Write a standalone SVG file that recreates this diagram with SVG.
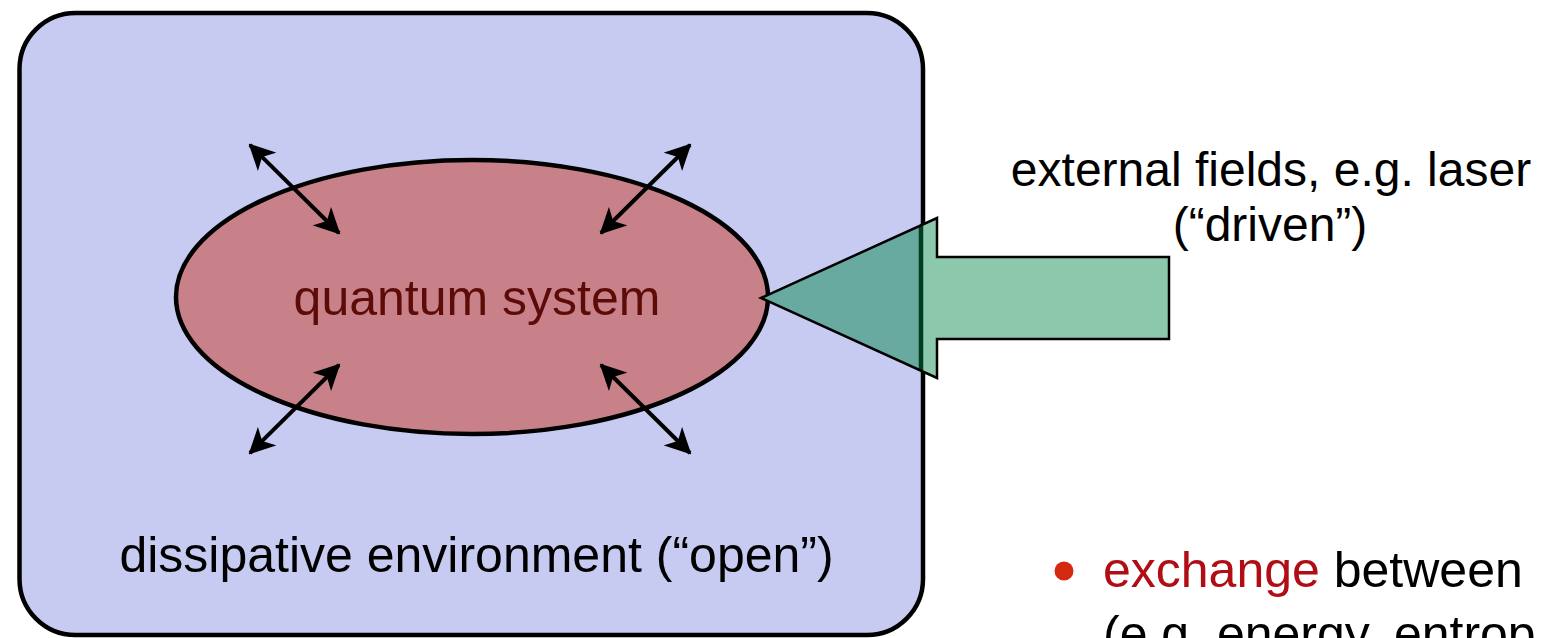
<svg xmlns="http://www.w3.org/2000/svg" width="1542" height="638" viewBox="0 0 1542 638">
  <style>
    .lbl { font-family: "Liberation Sans", Arial, Helvetica, sans-serif; font-size: 50px; }
    .side { font-size: 48px; }
    .dark { fill: #000; }
    .sys { fill: #5C0B08; }
    .hl { fill: #B00E14; }
    .link { stroke: #000; stroke-width: 4; fill: none; marker-start: url(#head); marker-end: url(#head); }
  </style>
  <defs>
    <marker id="head" viewBox="0 0 26 26" refX="24" refY="13" markerWidth="26" markerHeight="26" markerUnits="userSpaceOnUse" orient="auto-start-reverse">
      <path d="M0,0 L26,13 L0,26 L7,13 Z" fill="#000"/>
    </marker>
    <clipPath id="inside">
      <rect x="0" y="0" width="922" height="638"/>
    </clipPath>
    <clipPath id="arrowArea">
      <polygon points="761,298 937,218 937,257 1169,257 1169,339 937,339 937,378"/>
    </clipPath>
  </defs>

  <!-- environment -->
  <g id="environment">
    <rect x="19.5" y="13" width="903.5" height="622" rx="56" ry="56" fill="#C7CBF2" stroke="#000" stroke-width="4.5"/>
    <text class="lbl dark" x="476.5" y="572" text-anchor="middle">dissipative environment (“open”)</text>
  </g>

  <!-- quantum system -->
  <g id="quantum-system">
    <ellipse cx="472" cy="297" rx="296" ry="137" fill="#C98189" stroke="#000" stroke-width="4.5"/>
    <text class="lbl sys" x="477" y="315" text-anchor="middle">quantum system</text>
  </g>

  <!-- system-environment couplings -->
  <g id="connectors">
    <line class="link" x1="250" y1="145" x2="339" y2="233"/>
    <line class="link" x1="690" y1="145" x2="601" y2="233"/>
    <line class="link" x1="339" y1="365" x2="250" y2="453"/>
    <line class="link" x1="601" y1="365" x2="690" y2="453"/>
  </g>

  <!-- driving field -->
  <g id="drive">
    <polygon points="761,298 937,218 937,257 1169,257 1169,339 937,339 937,378" fill="#8CC8AB"/>
    <g clip-path="url(#inside)">
      <polygon points="761,298 937,218 937,257 1169,257 1169,339 937,339 937,378" fill="#69AAA0"/>
    </g>
    <g clip-path="url(#arrowArea)">
      <line x1="921" y1="200" x2="921" y2="400" stroke="#023D20" stroke-width="4.5"/>
    </g>
    <polygon points="761,298 937,218 937,257 1169,257 1169,339 937,339 937,378" fill="none" stroke="#000" stroke-width="2.5" stroke-linejoin="miter"/>
    <text class="lbl side dark" x="1271" y="186" text-anchor="middle">external fields, e.g. laser</text>
    <text class="lbl side dark" x="1270" y="241" text-anchor="middle">(“driven”)</text>
  </g>

  <!-- bullet note -->
  <g id="note">
    <circle cx="1064" cy="571" r="9.5" fill="#D42A12"/>
    <text class="lbl dark" x="1103" y="587"><tspan class="hl">exchange</tspan> between</text>
    <text class="lbl dark" x="1103" y="651">(e.g. energy, entrop</text>
  </g>
</svg>
